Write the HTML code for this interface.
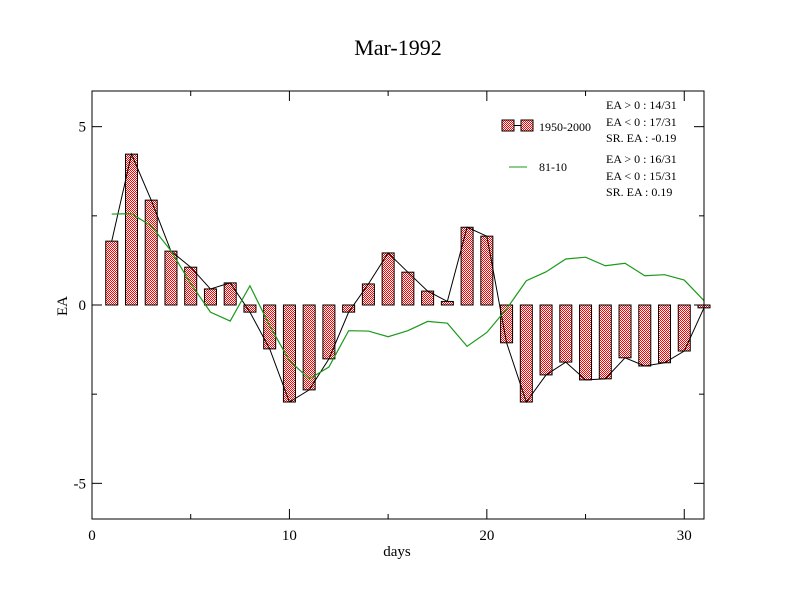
<!DOCTYPE html>
<html><head><meta charset="utf-8"><style>
body{margin:0;background:#fff;}
svg{display:block;font-family:"Liberation Serif",serif;}
</style></head><body>
<svg id="chart" width="792" height="612" viewBox="0 0 792 612">
<defs>
<pattern id="chk" width="2" height="2" patternUnits="userSpaceOnUse">
<rect width="2" height="2" fill="#fff"/><rect width="1" height="1" fill="#f00"/><rect x="1" y="1" width="1" height="1" fill="#f00"/>
</pattern>
</defs>
<rect width="792" height="612" fill="#fff"/>
<text x="398" y="55" font-size="22" text-anchor="middle">Mar-1992</text>
<g id="marks"></g>
<rect x="92" y="91" width="612" height="428" fill="none" stroke="#000" stroke-width="1"/>
<g id="axes"></g>
<text x="397" y="556" font-size="15" text-anchor="middle">days</text>
<text x="67" y="306" font-size="15" text-anchor="middle" transform="rotate(-90 67 306)">EA</text>
<g font-size="12">
<rect x="502" y="120" width="12" height="11" fill="url(#chk)" stroke="#000"/>
<line x1="514" y1="125.5" x2="521" y2="125.5" stroke="#000"/>
<rect x="521" y="120" width="12" height="11" fill="url(#chk)" stroke="#000"/>
<text x="539" y="131">1950-2000</text>
<line x1="509" y1="167" x2="527" y2="167" stroke="#1a9a1a"/>
<text x="539" y="171">81-10</text>
<text x="606" y="109">EA &gt; 0 : 14/31</text>
<text x="606" y="126">EA &lt; 0 : 17/31</text>
<text x="606" y="142">SR. EA : -0.19</text>
<text x="606" y="163">EA &gt; 0 : 16/31</text>
<text x="606" y="180">EA &lt; 0 : 15/31</text>
<text x="606" y="196">SR. EA :  0.19</text>
</g>
</svg>
<script>
const days = [1,2,3,4,5,6,7,8,9,10,11,12,13,14,15,16,17,18,19,20,21,22,23,24,25,26,27,28,29,30,31];
const ea19502000 = [1.79,4.23,2.94,1.51,1.06,0.45,0.62,-0.2,-1.23,-2.72,-2.38,-1.51,-0.2,0.59,1.46,0.92,0.39,0.1,2.18,1.93,-1.06,-2.72,-1.96,-1.6,-2.1,-2.07,-1.48,-1.71,-1.62,-1.29,-0.08];
const ea8110 = [2.55,2.56,2.22,1.52,0.6,-0.2,-0.45,0.54,-0.58,-1.56,-2.07,-1.74,-0.72,-0.73,-0.89,-0.72,-0.46,-0.51,-1.16,-0.77,-0.11,0.68,0.93,1.29,1.34,1.1,1.17,0.82,0.85,0.7,0.12];
const xTicks = [0,10,20,30];
const xMinor = [5,15,25];
const yTicks = [-5,0,5];
const yMinor = [-2.5,2.5];
const yTickLabels = ["-5","0","5"];

const NS = "http://www.w3.org/2000/svg";
const X0=92,X1=704,Y0=519,Y1=91, XMIN=0,XMAX=31,YMIN=-6,YMAX=6;
function xs(v){return X0+(v-XMIN)/(XMAX-XMIN)*(X1-X0);}
function ys(v){return Y0-(v-YMIN)/(YMAX-YMIN)*(Y0-Y1);}
function mk(tag,attrs,parent){const e=document.createElementNS(NS,tag);for(const k in attrs)e.setAttribute(k,attrs[k]);parent.appendChild(e);return e;}
const marks=document.getElementById('marks');
const axes=document.getElementById('axes');

days.forEach((d,i)=>{
  const v=ea19502000[i];
  const y=Math.min(ys(v),ys(0)), h=Math.abs(ys(v)-ys(0));
  const r=mk('rect',{x:xs(d)-6,y:y,width:12,height:Math.max(h,1),fill:'url(#chk)',stroke:'#000','stroke-width':1},marks);
  
  
});
const bl=mk('polyline',{points:days.map((d,i)=>xs(d)+','+ys(ea19502000[i])).join(' '),fill:'none',stroke:'#000','stroke-width':1},marks);


const gl=mk('polyline',{points:days.map((d,i)=>xs(d)+','+ys(ea8110[i])).join(' '),fill:'none',stroke:'#1a9a1a','stroke-width':1.2},marks);



function tickX(v,len){
  mk('line',{x1:xs(v),y1:Y0,x2:xs(v),y2:Y0-len,stroke:'#000'},axes);
  mk('line',{x1:xs(v),y1:Y1,x2:xs(v),y2:Y1+len,stroke:'#000'},axes);
}
function tickY(v,len){
  mk('line',{x1:X0,y1:ys(v),x2:X0+len,y2:ys(v),stroke:'#000'},axes);
  mk('line',{x1:X1,y1:ys(v),x2:X1-len,y2:ys(v),stroke:'#000'},axes);
}
xTicks.forEach(v=>{
  tickX(v,10);
  const t=mk('text',{x:xs(v),y:540,'font-size':15,'text-anchor':'middle'},axes);
  t.textContent=String(v);
  
  
});
xMinor.forEach(v=>tickX(v,5));
yTicks.forEach((v,i)=>{
  tickY(v,10);
  const t=mk('text',{x:86,y:ys(v)+5,'font-size':15,'text-anchor':'end'},axes);
  t.textContent=yTickLabels[i];
  
  
});
yMinor.forEach(v=>tickY(v,5));
</script>
</body></html>
